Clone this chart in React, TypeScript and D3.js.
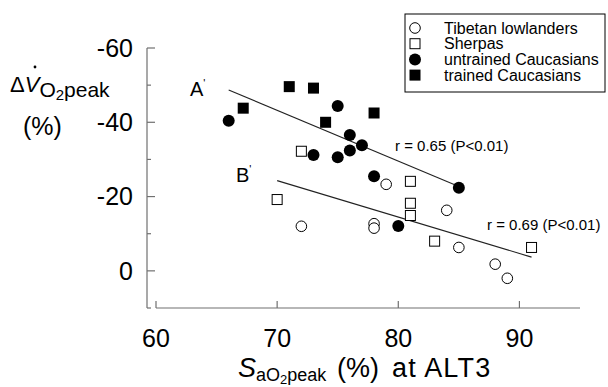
import * as d3 from 'd3';

// SaO2peak (%) vs change in VO2peak (%)
const tibetans = [
  { x: 72, y: -12 },
  { x: 78, y: -12.7 },
  { x: 78, y: -11.5 },
  { x: 79, y: -23.3 },
  { x: 84, y: -16.3 },
  { x: 85, y: -6.3 },
  { x: 88, y: -1.8 },
  { x: 89, y: 2 },
];
const sherpas = [
  { x: 70, y: -19.2 },
  { x: 72, y: -32.2 },
  { x: 81, y: -24.1 },
  { x: 81, y: -18.2 },
  { x: 81, y: -14.9 },
  { x: 83, y: -8 },
  { x: 91, y: -6.3 },
];
const untrained = [
  { x: 66, y: -40.4 },
  { x: 73, y: -31.2 },
  { x: 75, y: -44.4 },
  { x: 75, y: -30.6 },
  { x: 76, y: -36.6 },
  { x: 76, y: -32.4 },
  { x: 77, y: -33.8 },
  { x: 78, y: -25.5 },
  { x: 80, y: -12.1 },
  { x: 85, y: -22.4 },
];
const trained = [
  { x: 67.2, y: -43.8 },
  { x: 71, y: -49.6 },
  { x: 73, y: -49.2 },
  { x: 74, y: -40 },
  { x: 78, y: -42.5 },
];
const lineA = [
  { x: 66, y: -48.7 },
  { x: 85, y: -22.7 },
];
const lineB = [
  { x: 70, y: -24.3 },
  { x: 91, y: -3.7 },
];
const xTicks = [60, 70, 80, 90];
const yMajor = [-60, -40, -20, 0];
const yMinor = [-50, -30, -10, 10];
const legendItems = ['Tibetan lowlanders', 'Sherpas', 'untrained Caucasians', 'trained Caucasians'];

const FONT = "'Liberation Sans', Arial, Helvetica, sans-serif";
const AXIS = '#707070';

type Pt = { x: number; y: number };

function Marker({ kind, cx, cy }: { kind: number; cx: number; cy: number }) {
  if (kind === 0) return <circle cx={cx} cy={cy} r={5.3} fill="#fff" stroke="#000" strokeWidth={1} />;
  if (kind === 1) return <rect x={cx - 5} y={cy - 5} width={10} height={10} fill="#fff" stroke="#000" strokeWidth={1} />;
  if (kind === 2) return <circle cx={cx} cy={cy} r={6} fill="#000" />;
  return <rect x={cx - 5.5} y={cy - 5.5} width={11} height={11} fill="#000" />;
}

export default function App() {
  const x = d3.scaleLinear().domain([60, 95]).range([156, 580]);
  const y = d3.scaleLinear().domain([-60, 10]).range([48, 308]);
  const line = d3
    .line<Pt>()
    .x((p) => x(p.x))
    .y((p) => y(p.y));
  const groups = [tibetans, sherpas, untrained, trained];

  return (
    <svg width={608} height={387} style={{ position: 'absolute', left: 0, top: 0 }} fontFamily={FONT}>
      <rect width={608} height={387} fill="#fff" />

      {/* y axis */}
      <line x1={147} x2={147} y1={y(-60)} y2={y(10)} stroke={AXIS} strokeWidth={1.2} />
      {yMajor.map((t) => (
        <g key={`ym-${t}`}>
          <line x1={147} x2={155} y1={y(t)} y2={y(t)} stroke={AXIS} strokeWidth={1.2} />
          <text x={133} y={y(t)} dy="0.35em" textAnchor="end" fontSize={25}>
            {t}
          </text>
        </g>
      ))}
      {yMinor.map((t) => (
        <line key={`yn-${t}`} x1={147} x2={151} y1={y(t)} y2={y(t)} stroke={AXIS} strokeWidth={1.2} />
      ))}

      {/* x axis */}
      <line x1={x(60)} x2={x(95)} y1={308} y2={308} stroke={AXIS} strokeWidth={1.2} />
      {xTicks.map((t) => (
        <g key={`x-${t}`}>
          <line x1={x(t)} x2={x(t)} y1={308} y2={301} stroke={AXIS} strokeWidth={1.2} />
          <text x={x(t)} y={347} textAnchor="middle" fontSize={25}>
            {t}
          </text>
        </g>
      ))}

      {/* axis titles */}
      <text x={10} y={92} fontSize={22}>
        <tspan>Δ</tspan>
        <tspan fontStyle="italic">V</tspan>
        <tspan fontSize={21} dy={5}>O</tspan>
        <tspan fontSize={15} dy={3}>2</tspan>
        <tspan fontSize={21} dy={-3}>peak</tspan>
      </text>
      <circle cx={35} cy={67} r={1.4} fill="#000" />
      <text x={23} y={135} fontSize={25}>
        (%)
      </text>

      <text x={238} y={377} fontSize={27}>
        <tspan fontStyle="italic">S</tspan>
        <tspan fontSize={18} dy={4}>aO</tspan>
        <tspan fontSize={13} dy={3}>2</tspan>
        <tspan fontSize={18} dy={-3}>peak</tspan>
      </text>
      <text x={337} y={377} fontSize={27}>
        (%)
      </text>
      <text x={392} y={377} fontSize={27} letterSpacing={1.2}>
        at ALT3
      </text>

      {/* regression lines */}
      <path d={line(lineA) ?? ''} stroke="#222" strokeWidth={1.1} fill="none" />
      <path d={line(lineB) ?? ''} stroke="#222" strokeWidth={1.1} fill="none" />
      <text x={190} y={96} fontSize={20}>
        A<tspan fontSize={11} dy={-9}>'</tspan>
      </text>
      <text x={236} y={182} fontSize={20}>
        B<tspan fontSize={11} dy={-9}>'</tspan>
      </text>
      <text x={395} y={151} fontSize={15}>
        r = 0.65 (P&lt;0.01)
      </text>
      <text x={487} y={230} fontSize={15}>
        r = 0.69 (P&lt;0.01)
      </text>

      {/* points */}
      {groups.map((g, gi) =>
        g.map((p, i) => <Marker key={`${gi}-${i}`} kind={gi} cx={x(p.x)} cy={y(p.y)} />)
      )}

      {/* legend */}
      <rect x={405} y={14} width={200} height={78} fill="#fff" stroke="#000" strokeWidth={1} />
      {legendItems.map((name, i) => (
        <g key={name} transform={`translate(0,${28 + i * 15.7})`}>
          <Marker kind={i} cx={415} cy={0} />
          <text x={444} y={0} dy="0.35em" fontSize={16}>
            {name}
          </text>
        </g>
      ))}
    </svg>
  );
}
